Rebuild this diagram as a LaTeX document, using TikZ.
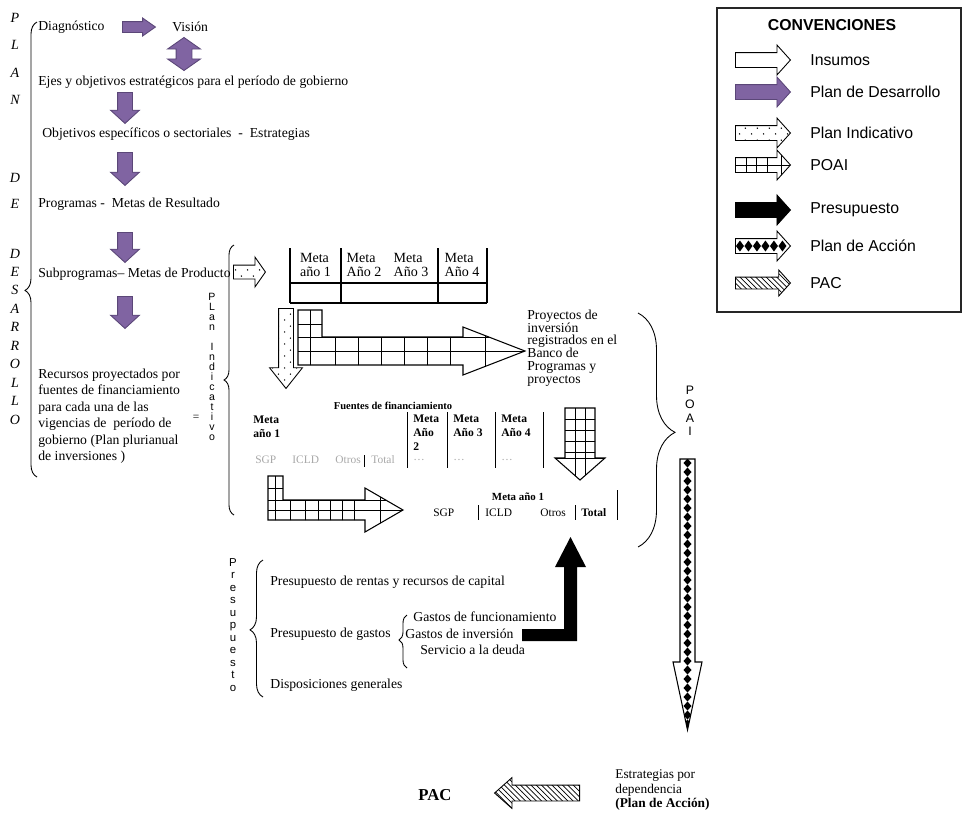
\documentclass[tikz,border=0pt]{standalone}
\usepackage{fontspec}
\setmainfont{Liberation Serif}
\setsansfont{Liberation Sans}
\usetikzlibrary{shapes.arrows,decorations.pathreplacing,patterns,patterns.meta}
\definecolor{pdpurple}{HTML}{8064A2}
\definecolor{pdedge}{HTML}{5B4778}
\definecolor{pdgray}{HTML}{A8A8A8}
\tikzdeclarepattern{
  name=sparsedots,
  type=uncolored,
  bottom left={(0pt,0pt)},
  top right={(7pt,7pt)},
  tile size={(7pt,7pt)},
  code={
    \fill (1.5pt,1.8pt) circle (0.45pt);
    \fill (5pt,5.3pt) circle (0.45pt);
  }
}

\begin{document}
\begin{tikzpicture}[
  x=0.2mm, y=-0.2mm,
  font=\rmfamily,
  plaintext/.style={
    font=\rmfamily\fontsize{7.8}{9.4}\selectfont,
    inner sep=0pt,
    anchor=west,
    align=left
  },
  stackletter/.style={
    font=\rmfamily\itshape\fontsize{8}{9}\selectfont,
    inner sep=0pt,
    align=center
  },
  sidestack/.style={
    inner sep=0pt,
    align=center
  },
  headcell/.style={
    font=\rmfamily\fontsize{8}{8}\selectfont,
    inner sep=0pt,
    align=left
  },
  tinybold/.style={
    font=\rmfamily\bfseries\fontsize{6.6}{8}\selectfont,
    inner sep=0pt,
    anchor=west,
    align=left
  },
  tinycell/.style={
    font=\rmfamily\fontsize{6.5}{7}\selectfont,
    inner sep=0pt,
    anchor=west
  },
  greycell/.style={
    tinycell,
    text=pdgray
  },
  legendtext/.style={
    font=\sffamily\fontsize{9}{10}\selectfont,
    inner sep=0pt,
    anchor=west
  },
  tablerule/.style={
    draw=black,
    line width=0.6pt
  },
  bracemark/.style={
    draw=black,
    line width=0.5pt,
    decorate
  },
  blockarrow/.style={
    single arrow,
    draw=black,
    line width=0.5pt,
    inner xsep=0pt,
    minimum width=0pt,
    anchor=tail
  },
  pdarrow/.style={
    blockarrow,
    draw=pdedge,
    fill=pdpurple
  },
  downpd/.style={
    pdarrow,
    rotate=-90,
    inner ysep=1.4mm,
    single arrow head extend=1.4mm,
    single arrow tip angle=95
  },
  legendarrow/.style={
    blockarrow,
    inner ysep=1.4mm,
    single arrow head extend=1.5mm,
    single arrow tip angle=96,
    minimum height=11mm
  },
  gridline/.style={
    draw=black,
    line width=0.5pt
  }
]
\useasboundingbox (0,0) rectangle (964,813);

% Plan de Desarrollo column
\node[stackletter, font=\rmfamily\itshape\fontsize{8}{15.5}\selectfont] (planword) at (15,59) {P\\L\\A\\N};
\node[stackletter, font=\rmfamily\itshape\fontsize{8}{14.8}\selectfont] (deword) at (15,191) {D\\E};
\node[stackletter, font=\rmfamily\itshape\fontsize{8}{10.5}\selectfont] (desarrolloword) at (15,336.5)
  {D\\E\\S\\A\\R\\R\\O\\L\\L\\O};
\draw[bracemark, decoration={brace, amplitude=2.4mm, aspect=0.41}] (37,477) -- (37,22);

\node[plaintext] (diag) at (38,27) {Diagnóstico};
\node[plaintext] (vision) at (172,27) {Visión};
\node[plaintext] (ejes) at (38,82) {Ejes y objetivos estratégicos para el período de gobierno};
\node[plaintext] (objesp) at (42,134) {Objetivos específicos o sectoriales \ - \ Estrategias};
\node[plaintext] (progs) at (38,204) {Programas - \ Metas de Resultado};
\node[plaintext] (subprogs) at (38,274) {Subprogramas– Metas de Producto};
\node[plaintext] (recursos) at (38,416)
  {Recursos proyectados por\\fuentes de financiamiento\\para cada una de las\\vigencias de \ período de\\gobierno (Plan plurianual\\de inversiones )};

\node[pdarrow, inner ysep=1mm, single arrow head extend=0.7mm, single arrow tip angle=70,
  minimum height=6.6mm] (diagarrow) at (122,27) {};
\node[double arrow, draw=pdedge, fill=pdpurple, line width=0.5pt, rotate=90, inner xsep=0pt,
  inner ysep=1.5mm, minimum width=0pt, double arrow head extend=1.7mm, double arrow tip angle=110,
  minimum height=6.6mm] (visionarrow) at (184,54) {};
\node[downpd, minimum height=6.2mm] (ejesarrow) at (125,92) {};
\node[downpd, minimum height=6.6mm] (objarrow) at (125,152) {};
\node[downpd, minimum height=6mm] (progarrow) at (125,232) {};
\node[downpd, minimum height=6.4mm] (subarrow) at (125,296) {};

% Plan Indicativo
\node[plaintext, font=\rmfamily\fontsize{6.5}{7}\selectfont, anchor=center] (equals) at (196,418) {=};
\node[sidestack, font=\sffamily\fontsize{6}{5.7}\selectfont] (indicword) at (212,367)
  {P\\L\\a\\n\\[5.7pt]I\\n\\d\\i\\c\\a\\t\\i\\v\\o};
\draw[bracemark, decoration={brace, amplitude=2mm, aspect=0.5}] (234,515) -- (234,245);

\node[blockarrow, pattern=sparsedots, inner ysep=1.3mm, single arrow head extend=1.6mm,
  single arrow tip angle=110, minimum height=6.4mm] (indicarrow) at (233,272) {};

\draw[tablerule] (290,248) -- (290,303) (341,248) -- (341,303)
  (438,248) -- (438,303) (487,248) -- (487,303);
\draw[tablerule] (290,283) -- (487,283) (290,303) -- (487,303);
\node[headcell] (metaA) at (315.5,265) {Meta\\año 1};
\node[headcell] (metaB) at (364,265) {Meta\\Año 2};
\node[headcell] (metaC) at (411,265) {Meta\\Año 3};
\node[headcell] (metaD) at (462,265) {Meta\\Año 4};

\node[blockarrow, rotate=-90, pattern=sparsedots, inner ysep=1.4mm, single arrow head extend=1.8mm,
  single arrow tip angle=77, minimum height=16mm] (indicdown) at (286,308) {};

% POAI
\begin{scope}[line width=0.6pt]
  \draw[clip] (298,310) -- (322,310) -- (322,337) -- (463,337) -- (463,327)
    -- (525,351) -- (463,375) -- (463,365) -- (298,365) -- cycle;
  \foreach \gx in {310,335,358,381,404,427,450,485}
    \draw[gridline] (\gx,300) -- (\gx,380);
  \foreach \gy in {324,337,351}
    \draw[gridline] (290,\gy) -- (530,\gy);
\end{scope}

\node[plaintext, font=\rmfamily\fontsize{7.8}{7.3}\selectfont] (proyectos) at (527,348)
  {Proyectos de\\inversión\\registrados en el\\Banco de\\Programas y\\proyectos};

\node[tinybold, font=\rmfamily\bfseries\fontsize{6}{7}\selectfont, anchor=center] (fuentes) at (393,406)
  {Fuentes de financiamiento};
\node[tinybold] (metaE) at (253,427) {Meta\\año 1};
\node[tinybold] (metaF) at (413,433) {Meta\\Año\\2};
\node[tinybold] (metaG) at (453,426) {Meta\\Año 3};
\node[tinybold] (metaH) at (501,426) {Meta\\Año 4};
\draw[tablerule, line width=0.5pt] (407,412) -- (407,468) (447,412) -- (447,468)
  (495,412) -- (495,468) (543,412) -- (543,468);
\node[greycell] (sgp) at (255,460) {SGP};
\node[greycell] (icld) at (292,460) {ICLD};
\node[greycell] (otros) at (335,460) {Otros};
\draw[tablerule, line width=0.5pt] (364,455) -- (364,467);
\node[greycell] (total) at (371,460) {Total};
\node[greycell] (moreB) at (413,460) {\ldots};
\node[greycell] (moreC) at (453,460) {\ldots};
\node[greycell] (moreD) at (501,460) {\ldots};

\begin{scope}[line width=0.6pt]
  \draw[clip] (565,408) -- (595,408) -- (595,458) -- (605,458) -- (580,480)
    -- (555,458) -- (565,458) -- cycle;
  \foreach \gx in {575,585}
    \draw[gridline] (\gx,400) -- (\gx,485);
  \foreach \gy in {419,430,441,452,458}
    \draw[gridline] (550,\gy) -- (610,\gy);
\end{scope}

\begin{scope}[line width=0.6pt]
  \draw[clip] (268,476) -- (283,476) -- (283,500) -- (365,500) -- (365,488)
    -- (403,510) -- (365,532) -- (365,520) -- (268,520) -- cycle;
  \foreach \gx in {275,290,305,318,330,342,354,380}
    \draw[gridline] (\gx,470) -- (\gx,540);
  \foreach \gy in {488,500,510}
    \draw[gridline] (260,\gy) -- (410,\gy);
\end{scope}

\node[tinybold, font=\rmfamily\bfseries\fontsize{6.2}{7}\selectfont, anchor=center] (metarow) at (518,497)
  {Meta año 1};
\node[tinycell] (sgpB) at (433,513) {SGP};
\draw[tablerule, line width=0.5pt] (478,505) -- (478,520);
\node[tinycell] (icldB) at (485,513) {ICLD};
\node[tinycell] (otrosB) at (540,513) {Otros};
\draw[tablerule, line width=0.5pt] (575,505) -- (575,520);
\node[tinycell, font=\rmfamily\bfseries\fontsize{6.5}{7}\selectfont] (totalB) at (581,513) {Total};
\draw[tablerule, line width=0.5pt] (617,490) -- (617,520);

\draw[bracemark, decoration={brace, amplitude=7.4mm, aspect=0.51}] (638,313) -- (638,547);
\node[sidestack, font=\sffamily\fontsize{7}{7.8}\selectfont] (poaiword) at (690,411) {P\\O\\A\\I};

% Presupuesto
\node[sidestack, font=\sffamily\fontsize{6.5}{7.1}\selectfont] (presupword) at (233,625)
  {P\\r\\e\\s\\u\\p\\u\\e\\s\\t\\o};
\draw[bracemark, decoration={brace, amplitude=2.6mm, aspect=0.49}] (263,697) -- (263,560);
\node[plaintext] (rentas) at (270,582) {Presupuesto de rentas y recursos de capital};
\node[plaintext] (gastos) at (270,634) {Presupuesto de gastos};
\node[plaintext] (disposiciones) at (270,685) {Disposiciones generales};
\draw[bracemark, decoration={brace, amplitude=1.6mm, aspect=0.53}] (407,668) -- (407,615);
\node[plaintext] (funcionamiento) at (413,617) {Gastos de funcionamiento};
\node[plaintext] (inversion) at (405,634) {Gastos de inversión};
\node[plaintext] (deuda) at (420,650) {Servicio a la deuda};

\fill[black] (522,629) -- (564,629) -- (564,567) -- (555,567) -- (570.5,537) -- (586,567)
  -- (577,567) -- (577,641) -- (522,641) -- cycle;

% Plan de Accion
\begin{scope}[line width=0.6pt]
  \draw[clip] (680,459) -- (695,459) -- (695,662) -- (702,662) -- (687.5,730)
    -- (673,662) -- (680,662) -- cycle;
  \foreach \k in {0,...,29}
    \fill (683.5,{463+9*\k}) -- ++(4,-4.5) -- ++(4,4.5) -- ++(-4,4.5) -- cycle;
\end{scope}

% PAC
\node[font=\rmfamily\bfseries\fontsize{9.5}{11}\selectfont, inner sep=0pt] (pac) at (435,795) {PAC};
\node[blockarrow, rotate=180, pattern=north west lines, inner ysep=1.5mm, single arrow head extend=1.5mm,
  single arrow tip angle=83, minimum height=17mm] (pacarrow) at (580,793) {};
\node[plaintext, font=\rmfamily\fontsize{7.6}{8.5}\selectfont] (estrategias) at (615,790)
  {Estrategias por\\dependencia\\\textbf{(Plan de Acción)}};

% Convenciones
\draw[line width=0.8pt, draw=black!85] (717,8) rectangle (961,312);
\node[font=\sffamily\bfseries\fontsize{9}{10}\selectfont, inner sep=0pt] (convtitle) at (832,25) {CONVENCIONES};

\node[legendarrow, fill=white] (leginsumos) at (735,60) {};
\node[legendtext] (txtinsumos) at (810,60) {Insumos};
\node[legendarrow, draw=pdedge, fill=pdpurple] (legdesarrollo) at (735,92) {};
\node[legendtext] (txtdesarrollo) at (810,92) {Plan de Desarrollo};
\node[legendarrow, pattern=sparsedots] (legindicativo) at (735,133) {};
\node[legendtext] (txtindicativo) at (810,133) {Plan Indicativo};
\node[legendarrow, fill=white, path picture={
    \draw[line width=0.5pt] (path picture bounding box.west) -- (path picture bounding box.east);
    \foreach \k in {2.1,4.2,6.3,9.2}
      \draw[line width=0.5pt] ([xshift=\k mm]path picture bounding box.south west)
        -- ([xshift=\k mm]path picture bounding box.north west);
  }] (legpoai) at (735,165) {};
\node[legendtext] (txtpoai) at (810,165) {POAI};
\node[legendarrow, fill=black] (legpresupuesto) at (735,210) {};
\node[legendtext] (txtpresupuesto) at (810,210) {Presupuesto};
\node[legendarrow, fill=white, path picture={
    \foreach \k in {0,...,5}
      \fill[black] ([xshift=\k*1.7mm+0.9mm]path picture bounding box.west)
        +(-0.8mm,0) -- +(0,1.1mm) -- +(0.8mm,0) -- +(0,-1.1mm) -- cycle;
  }] (legaccion) at (735,246) {};
\node[legendtext] (txtaccion) at (810,246) {Plan de Acción};
\node[legendarrow, pattern=north west lines, inner ysep=1.1mm, single arrow head extend=1.4mm] (legpac) at (735,283) {};
\node[legendtext] (txtpac) at (810,283) {PAC};

\end{tikzpicture}
\end{document}
